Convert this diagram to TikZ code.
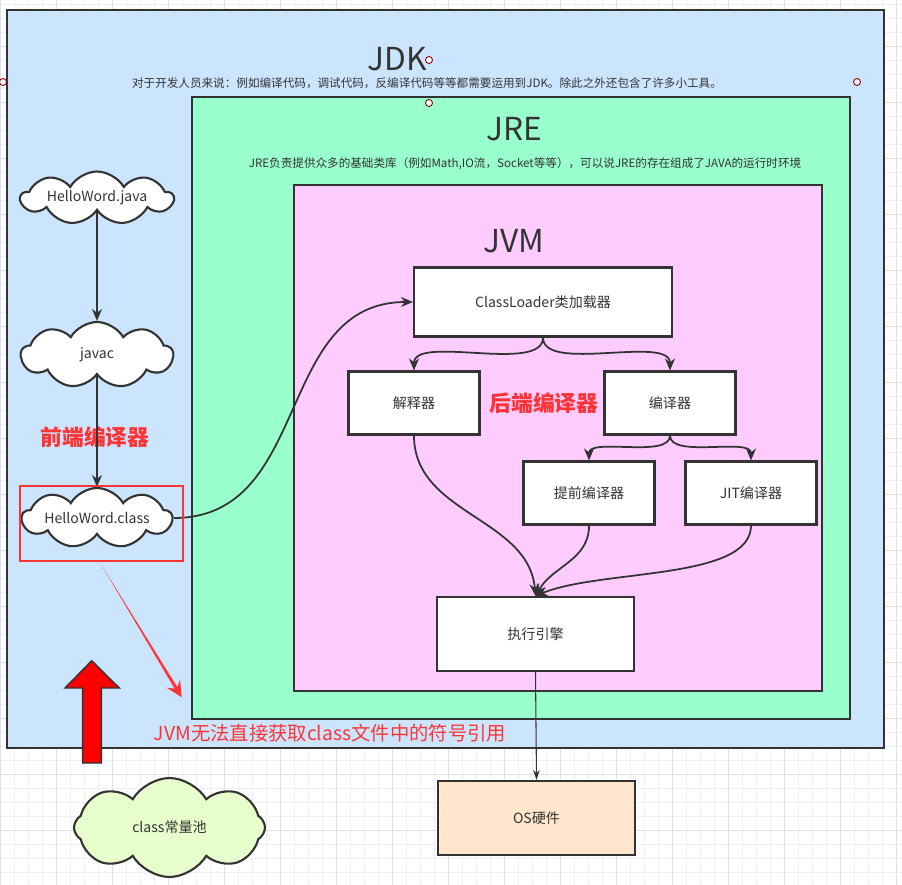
\documentclass[tikz,border=0pt]{standalone}
\usepackage{fontspec}
\setmainfont{Noto Sans CJK SC}
\usetikzlibrary{shapes.symbols,arrows.meta}

\definecolor{jdkblue}{HTML}{CCE5FF}
\definecolor{jregreen}{HTML}{99FFCC}
\definecolor{jvmpink}{HTML}{FFCCFF}
\definecolor{ospeach}{HTML}{FFE6CC}
\definecolor{poolgreen}{HTML}{E6FFCC}
\definecolor{inkgray}{HTML}{333333}
\definecolor{notered}{HTML}{FF3333}
\definecolor{gridminor}{HTML}{F0F0F0}
\definecolor{gridmajor}{HTML}{E0E0E0}

\begin{document}
\begin{tikzpicture}[x=0.02cm,y=-0.02cm,
  box/.style={draw=inkgray,line width=1.2pt,fill=white,inner sep=0pt,text=inkgray,font=\fontsize{8}{9}\selectfont},
  cloudy/.style={cloud,cloud puffs=9,cloud puff arc=120,cloud ignores aspect,draw=inkgray,line width=1.2pt,fill=white,inner sep=0pt,text=inkgray,font=\fontsize{8}{9}\selectfont},
  layer/.style={draw=inkgray,line width=1.2pt},
  title/.style={text=inkgray,font=\fontsize{18}{20}\selectfont},
  note/.style={text=inkgray,font=\fontsize{6.6}{7}\selectfont},
  flow/.style={draw=inkgray,line width=1pt,-{Stealth[length=2.4mm,width=2mm]}},
  thinflow/.style={draw=inkgray,line width=0.6pt,-{Stealth[length=2mm,width=1.3mm]}},
  redword/.style={text=notered,font=\bfseries\fontsize{12.4}{14}\selectfont},
  handle/.style={draw=red!55!black,fill=white,line width=0.5pt}]
\useasboundingbox (0,0) rectangle (902,885);

% grid
\foreach \gx in {0,14,...,896} \draw[gridminor,line width=0.5pt] (\gx,0) -- (\gx,885);
\foreach \gy in {4,18,...,882} \draw[gridminor,line width=0.5pt] (0,\gy) -- (902,\gy);
\foreach \gx in {0,56,...,896} \draw[gridmajor,line width=0.5pt] (\gx,0) -- (\gx,885);
\foreach \gy in {46,102,...,878} \draw[gridmajor,line width=0.5pt] (0,\gy) -- (902,\gy);

% JDK / JRE / JVM
\draw[layer,fill=jdkblue] (7,10) rectangle (884,748);
\draw[layer,fill=jregreen] (192,97) rectangle (850,719);
\draw[layer,fill=jvmpink] (294,185) rectangle (822,691);

\node[title] (jdk) at (397,59) {JDK};
\node[note] (jdknote) at (427,83) {对于开发人员来说：例如编译代码，调试代码，反编译代码等等都需要运用到JDK。除此之外还包含了许多小工具。};
\node[title] (jre) at (514,129) {JRE};
\node[note] (jrenote) at (525,164) {JRE负责提供众多的基础类库（例如Math,IO流，Socket等等），可以说JRE的存在组成了JAVA的运行时环境};
\node[title] (jvm) at (514,241) {JVM};

% JVM parts
\node[box,minimum width=5.16cm,minimum height=1.38cm] (loader) at (543,302) {ClassLoader类加载器};
\node[box,minimum width=2.62cm,minimum height=1.26cm] (interp) at (414,403) {解释器};
\node[box,minimum width=2.62cm,minimum height=1.26cm] (comp) at (670,403) {编译器};
\node[box,minimum width=2.62cm,minimum height=1.26cm] (aot) at (589,493) {提前编译器};
\node[box,minimum width=2.62cm,minimum height=1.26cm] (jit) at (751,493) {JIT编译器};
\node[box,minimum width=3.94cm,minimum height=1.48cm] (exec) at (535.5,634) {执行引擎};
\node[box,fill=ospeach,minimum width=3.94cm,minimum height=1.48cm] (os) at (536.5,818) {OS硬件};

% source side
\node[cloudy,minimum width=3.04cm,minimum height=1.06cm] (hjava) at (97,198) {HelloWord.java};
\node[cloudy,minimum width=3.04cm,minimum height=1.32cm] (javac) at (97,355) {javac};
\node[cloudy,minimum width=3.0cm,minimum height=1.2cm] (hclass) at (97,518) {HelloWord.class};
\node[cloudy,cloud puffs=8,fill=poolgreen,minimum width=3.82cm,minimum height=1.98cm] (pool) at (169.5,827.5) {class常量池};

\node[redword] (front) at (95,437) {前端编译器};
\node[redword] (back) at (544,403) {后端编译器};
\node[text=notered,font=\fontsize{11}{12}\selectfont] (symref) at (330,733) {JVM无法直接获取class文件中的符号引用};

\draw[flow] (hjava.south) -- (javac.north);
\draw[flow] (javac.south) -- (hclass.north);
\draw[flow] (hclass.east) to[out=0,in=180,looseness=1.1] (loader.west);
\draw[flow] (loader.south) to[out=-90,in=90,looseness=0.7] (interp.north);
\draw[flow] (loader.south) to[out=-90,in=90,looseness=0.7] (comp.north);
\draw[flow] (comp.south) to[out=-90,in=90,looseness=0.7] (aot.north);
\draw[flow] (comp.south) to[out=-90,in=90,looseness=0.7] (jit.north);
\draw[flow] (interp.south) to[out=-90,in=95] (exec.north);
\draw[flow] (aot.south) to[out=-90,in=60] (exec.north);
\draw[flow] (jit.south) .. controls +(0,55) and +(65,-27) .. (exec.north);
\draw[thinflow] (exec.south) -- (os.north);

% red marks
\draw[notered,line width=1.7pt] (20,486) rectangle (183,561);
\fill[notered] (102,566) -- (177.3,687.1) -- (180.1,679.6) -- (181.7,697.3) -- (166.7,687.7) -- (174.7,688.7) -- cycle;
\filldraw[fill=red,draw=inkgray,line width=0.8pt] (82.7,763) -- (82.7,688) -- (65,688) -- (91.7,660.7) -- (119.3,688) -- (101.3,688) -- (101.3,763) -- cycle;

% handles
\draw[handle] (429,60) circle[radius=0.07cm];
\draw[handle] (3,82) circle[radius=0.07cm];
\draw[handle] (857,82) circle[radius=0.07cm];
\draw[handle] (429,103) circle[radius=0.07cm];
\end{tikzpicture}
\end{document}
